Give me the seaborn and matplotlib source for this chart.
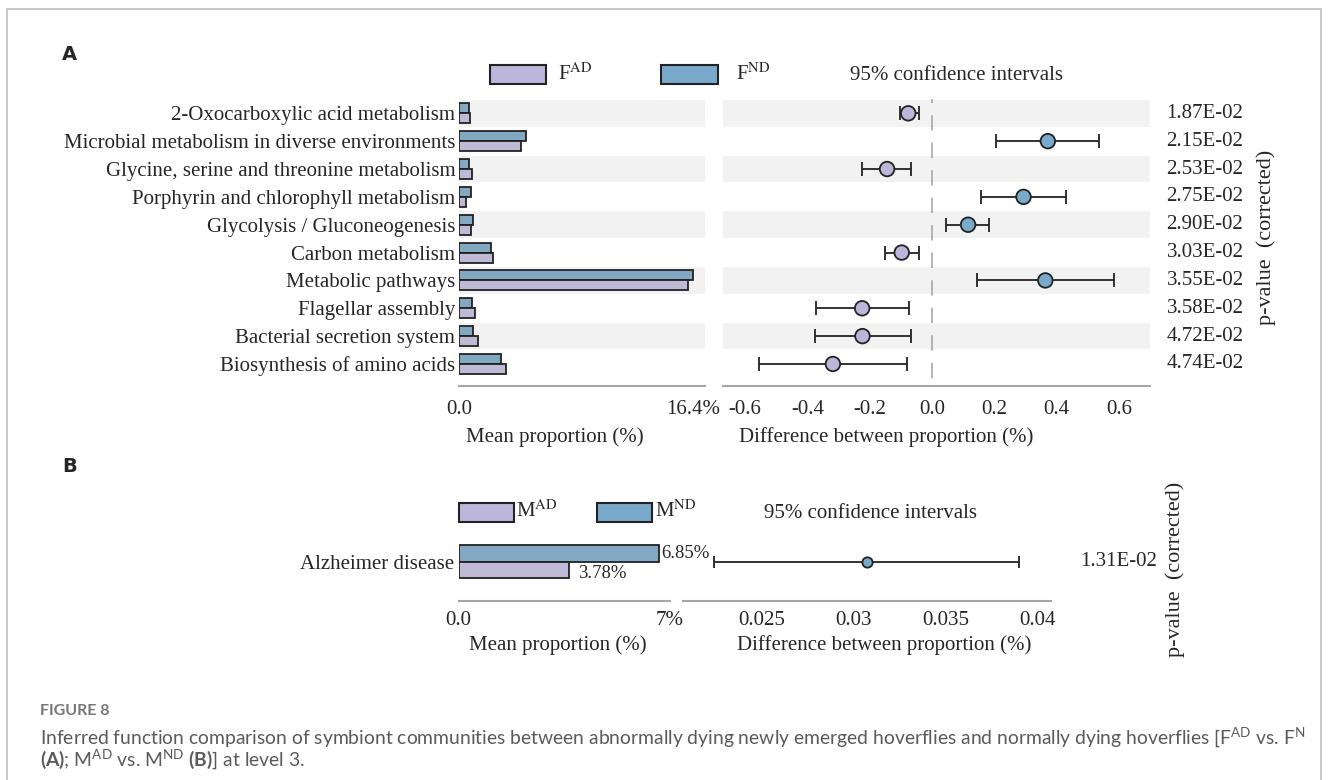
import numpy as np
import pandas as pd
import matplotlib
matplotlib.use("Agg")
import matplotlib.pyplot as plt
import seaborn as sns
from matplotlib.patches import Rectangle

# ---- data ----
pathways = ["2-Oxocarboxylic acid metabolism",
            "Microbial metabolism in diverse environments",
            "Glycine, serine and threonine metabolism",
            "Porphyrin and chlorophyll metabolism",
            "Glycolysis / Gluconeogenesis",
            "Carbon metabolism",
            "Metabolic pathways",
            "Flagellar assembly",
            "Bacterial secretion system",
            "Biosynthesis of amino acids"]
f_ad = [0.75, 4.3, 0.87, 0.47, 0.82, 2.35, 16.05, 1.1, 1.3, 3.25]
f_nd = [0.65, 4.7, 0.70, 0.80, 0.94, 2.2, 16.4, 0.86, 0.98, 2.95]
diff_a = [-0.076, 0.372, -0.144, 0.294, 0.116, -0.097, 0.364, -0.224, -0.223, -0.318]
ci_lo_a = [-0.104, 0.205, -0.224, 0.156, 0.046, -0.151, 0.144, -0.372, -0.375, -0.555]
ci_hi_a = [-0.042, 0.537, -0.067, 0.430, 0.183, -0.042, 0.586, -0.073, -0.068, -0.079]
pvals_a = ["1.87E-02", "2.15E-02", "2.53E-02", "2.75E-02", "2.90E-02",
           "3.03E-02", "3.55E-02", "3.58E-02", "4.72E-02", "4.74E-02"]
diff_ticks_a = [-0.6, -0.4, -0.2, 0.0, 0.2, 0.4, 0.6]

pathway_b = ["Alzheimer disease"]
m_ad = [3.78]
m_nd = [6.85]
diff_b = [0.03076]
ci_lo_b = [0.02241]
ci_hi_b = [0.03902]
pvals_b = ["1.31E-02"]
diff_ticks_b = [0.025, 0.03, 0.035, 0.04]

PURPLE = "#bcb6da"
BLUE = "#79aacb"
STRIPE = "#f2f2f2"
AXGRAY = "#a6a6a6"

W, H = 1329, 780
sns.set_style("white")
plt.rcParams["font.family"] = ["Liberation Serif", "DejaVu Serif"]
# caption math uses Lato, chart texts ask for stix explicitly
plt.rcParams["mathtext.fontset"] = "custom"
plt.rcParams["mathtext.rm"] = "Lato"
plt.rcParams["mathtext.bf"] = "Lato:bold"
plt.rcParams["axes.facecolor"] = "none"
FS = 15
MATH = dict(math_fontfamily="stix")

fig = plt.figure(figsize=(W / 100, H / 100), dpi=100)


def fx(x):
    return x / W


def fy(y):
    return 1 - y / H


def add_ax(x0, x1, y0, y1):
    return fig.add_axes([fx(x0), fy(y1), fx(x1 - x0), (y1 - y0) / H])


def style_axis(ax, outward, pad=10):
    for s in ["top", "right", "left"]:
        ax.spines[s].set_visible(False)
    ax.spines["bottom"].set_color(AXGRAY)
    ax.spines["bottom"].set_linewidth(1.5)
    ax.spines["bottom"].set_position(("outward", outward))
    ax.tick_params(axis="x", direction="in", length=6, width=1.2, color=AXGRAY,
                   labelsize=FS, pad=pad)
    ax.tick_params(axis="y", length=0)
    ax.set_xlabel("")
    ax.set_ylabel("")


# ================= Panel A =================
n = len(pathways)
row_top, row_bot = 99.4, 377.9
xmax_a = 17.22

axA1 = add_ax(459.3, 705, row_top, row_bot)
df_a = pd.DataFrame({"pathway": pathways * 2,
                     "group": ["ND"] * n + ["AD"] * n,
                     "mean": f_nd + f_ad})
for i in range(0, n, 2):
    axA1.axhspan(i - 0.48, i + 0.48, color=STRIPE, zorder=0, lw=0)
sns.barplot(data=df_a, y="pathway", x="mean", hue="group", order=pathways,
            hue_order=["ND", "AD"], palette={"ND": BLUE, "AD": PURPLE},
            orient="h", width=0.72, edgecolor="#222222", linewidth=1.3,
            errorbar=None, legend=False, ax=axA1, zorder=2)
axA1.set_xlim(0, xmax_a)
axA1.set_ylim(n - 0.5, -0.5)
axA1.set_xticks([0, max(f_nd + f_ad)])
axA1.set_xticklabels(["0.0", f"{max(f_nd + f_ad):.1f}%"])
style_axis(axA1, 6)
axA1.tick_params(axis="y", labelsize=FS, pad=3)

axA2 = add_ax(722.9, 1150, row_top, row_bot)
rows = np.arange(n)
for i in range(0, n, 2):
    axA2.axhspan(i - 0.48, i + 0.48, color=STRIPE, zorder=0, lw=0)
axA2.axvline(0, color="#a0a0a0", lw=1.1, ls=(0, (10, 8)), zorder=1)
d = np.array(diff_a)
axA2.errorbar(d, rows, xerr=[d - np.array(ci_lo_a), np.array(ci_hi_a) - d],
              fmt="none", ecolor="#222222", elinewidth=1.3, capsize=5,
              capthick=1.3, zorder=2)
df_pa = pd.DataFrame({"diff": d, "row": rows,
                      "grp": np.where(d > 0, "ND", "AD")})
sns.scatterplot(data=df_pa, x="diff", y="row", hue="grp",
                palette={"ND": BLUE, "AD": PURPLE}, s=110, edgecolor="#222222",
                linewidth=1.3, legend=False, ax=axA2, zorder=3)
axA2.set_xlim(-0.671, 0.700)
axA2.set_ylim(n - 0.5, -0.5)
axA2.set_xticks(diff_ticks_a)
axA2.set_xticklabels([f"{t:.1f}" for t in diff_ticks_a])
axA2.set_yticks([])
style_axis(axA2, 6)
for i, p in enumerate(pvals_a):
    axA2.text(1.0386, i, p, transform=axA2.get_yaxis_transform(),
              ha="left", va="center", fontsize=FS)

# legend A
fig.patches.append(Rectangle((fx(490), fy(84)), fx(56), 19 / H, transform=fig.transFigure,
                             facecolor=PURPLE, edgecolor="#222222", lw=1.5))
fig.patches.append(Rectangle((fx(661), fy(84)), fx(56.7), 19 / H, transform=fig.transFigure,
                             facecolor=BLUE, edgecolor="#222222", lw=1.5))
fig.text(fx(558), fy(74), r"F$^{\mathrm{AD}}$", fontsize=FS, va="center", ha="left", **MATH)
fig.text(fx(736), fy(74), r"F$^{\mathrm{ND}}$", fontsize=FS, va="center", ha="left", **MATH)
fig.text(fx(957), fy(75), "95% confidence intervals", fontsize=FS, va="center", ha="center")
fig.text(fx(555), fy(437), "Mean proportion (%)", fontsize=FS, va="center", ha="center")
fig.text(fx(886), fy(437), "Difference between proportion (%)", fontsize=FS,
         va="center", ha="center")
fig.text(fx(1266), fy(237), "p-value  (corrected)", fontsize=16, rotation=90,
         va="center", ha="center")
fig.text(fx(62), fy(54), "A", fontsize=14, fontweight="bold", family="DejaVu Sans",
         va="center", ha="left")

# ================= Panel B =================
xmax_b = 7.21
axB1 = add_ax(458.6, 670, 540.9, 582.5)
df_b = pd.DataFrame({"pathway": pathway_b * 2, "group": ["ND", "AD"],
                     "mean": m_nd + m_ad})
sns.barplot(data=df_b, y="pathway", x="mean", hue="group", order=pathway_b,
            hue_order=["ND", "AD"], palette={"ND": BLUE, "AD": PURPLE},
            orient="h", width=0.8, edgecolor="#222222", linewidth=1.3,
            errorbar=None, legend=False, ax=axB1)
axB1.set_xlim(0, xmax_b)
axB1.set_ylim(0.5, -0.5)
axB1.set_xticks([0, xmax_b])
axB1.set_xticklabels(["0.0", "7%"])
style_axis(axB1, 13.5, pad=7)
axB1.tick_params(axis="y", labelsize=FS, pad=3)
axB1.text(m_nd[0] + 0.06, -0.2, f"{m_nd[0]:.2f}%", fontsize=13.5, va="center", ha="left")
axB1.text(m_ad[0] + 0.3, 0.28, f"{m_ad[0]:.2f}%", fontsize=13.5, va="center", ha="left")

axB2 = add_ax(682.7, 1050.7, 540.9, 582.5)
db = np.array(diff_b)
axB2.errorbar(db, [0], xerr=[db - np.array(ci_lo_b), np.array(ci_hi_b) - db],
              fmt="none", ecolor="#222222", elinewidth=1.3, capsize=4.5,
              capthick=1.3, zorder=2)
sns.scatterplot(x=db, y=[0], color=BLUE, s=55, edgecolor="#222222",
                linewidth=1.3, legend=False, ax=axB2, zorder=3)
axB2.set_xlim(0.02071, 0.04073)
axB2.set_ylim(0.5, -0.5)
axB2.set_xticks(diff_ticks_b)
axB2.set_xticklabels([f"{t:g}" for t in diff_ticks_b])
axB2.set_yticks([])
style_axis(axB2, 13.5, pad=7)
axB2.text(1.08, 0, pvals_b[0], transform=axB2.get_yaxis_transform(),
          ha="left", va="center", fontsize=FS)

fig.patches.append(Rectangle((fx(459), fy(522)), fx(55), 19 / H, transform=fig.transFigure,
                             facecolor=PURPLE, edgecolor="#222222", lw=1.5))
fig.patches.append(Rectangle((fx(597), fy(522)), fx(55), 19 / H, transform=fig.transFigure,
                             facecolor=BLUE, edgecolor="#222222", lw=1.5))
fig.text(fx(516), fy(511), r"M$^{\mathrm{AD}}$", fontsize=FS, va="center", ha="left", **MATH)
fig.text(fx(655), fy(511), r"M$^{\mathrm{ND}}$", fontsize=FS, va="center", ha="left", **MATH)
fig.text(fx(871), fy(513), "95% confidence intervals", fontsize=FS, va="center", ha="center")
fig.text(fx(558), fy(645), "Mean proportion (%)", fontsize=FS, va="center", ha="center")
fig.text(fx(884), fy(645), "Difference between proportion (%)", fontsize=FS,
         va="center", ha="center")
fig.text(fx(1175), fy(569), "p-value  (corrected)", fontsize=16, rotation=90,
         va="center", ha="center")
fig.text(fx(62), fy(466), "B", fontsize=14, fontweight="bold", family="DejaVu Sans",
         va="center", ha="left")

# ---- frame + caption ----
fig.patches.append(Rectangle((fx(7), fy(800)), fx(1314), 791 / H, transform=fig.transFigure,
                             facecolor="none", edgecolor="#bdbdbd", lw=1.2))
cap = dict(family="Lato", color="#5a5a5a", va="center", ha="left")
fig.text(fx(40), fy(711), "FIGURE 8", fontsize=11.5, fontweight="bold", color="#777777",
         family="Lato", va="center", ha="left")
fig.text(fx(40), fy(738),
         "Inferred function comparison of symbiont communities between abnormally dying "
         r"newly emerged hoverflies and normally dying hoverflies [F$^{\mathrm{AD}}$ vs. F$^{\mathrm{N}}$",
         fontsize=13.9, **cap)
fig.text(fx(40), fy(760), r"$\bf{(A)}$; M$^{\mathrm{AD}}$ vs. M$^{\mathrm{ND}}$ $\bf{(B)}$] at level 3.",
         fontsize=13.9, **cap)

fig.savefig("out.png", dpi=100)
